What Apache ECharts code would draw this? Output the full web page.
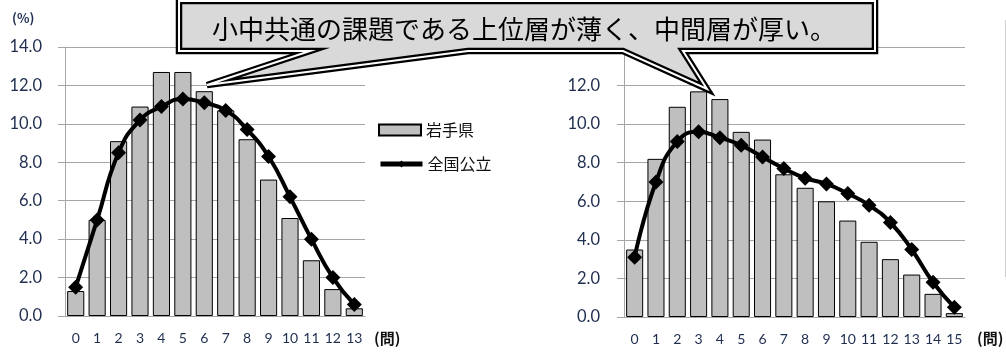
<!DOCTYPE html>
<html>
<head>
<meta charset="utf-8">
<script src="https://cdn.jsdelivr.net/npm/echarts@6/dist/echarts.min.js"></script>
<style>
html,body{margin:0;padding:0;background:#fff;}
#chart{width:1006px;height:352px;}
</style>
</head>
<body>
<div id="chart"></div>
<script>
const categoriesLeft = ['0','1','2','3','4','5','6','7','8','9','10','11','12','13'];
const categoriesRight = ['0','1','2','3','4','5','6','7','8','9','10','11','12','13','14','15'];
const iwateLeft = [1.3,5.0,9.1,10.9,12.7,12.7,11.7,10.7,9.2,7.1,5.1,2.9,1.4,0.4];
const nationalLeft = [1.5,5.0,8.5,10.2,10.9,11.3,11.1,10.7,9.7,8.3,6.2,4.0,2.0,0.6];
const iwateRight = [3.5,8.2,10.9,11.7,11.3,9.6,9.2,7.4,6.7,6.0,5.0,3.9,3.0,2.2,1.2,0.2];
const nationalRight = [3.1,7.0,9.1,9.6,9.3,8.9,8.3,7.7,7.2,6.9,6.4,5.8,4.9,3.5,1.8,0.5];
const seriesNames = ['岩手県','全国公立'];
const calloutText = '小中共通の課題である上位層が薄く、中間層が厚い。';
const yUnit = '(%)';
const xUnit = '(問)';

const navy = '#1f2d4f';
const gridGray = '#a6a6a6';
const latin = 'Lato, "Noto Sans CJK JP", sans-serif';
const cjk = '"Noto Sans CJK JP", sans-serif';

function yAxis(gi, margin){
  return {
    gridIndex: gi, type:'value', min:0, max:14, interval:2,
    axisLine:{show:true, lineStyle:{color:gridGray}},
    axisTick:{show:true, length:7, lineStyle:{color:gridGray}},
    splitLine:{lineStyle:{color:gridGray, width:1}},
    axisLabel:{margin:margin, color:navy, fontSize:16.5, fontFamily:latin, formatter:v=>v.toFixed(1)}
  };
}
function xAxis(gi, cats){
  return {
    gridIndex: gi, type:'category', data:cats,
    axisLine:{show:true, lineStyle:{color:gridGray}},
    axisTick:{show:false},
    axisLabel:{margin:15, color:navy, fontSize:14, fontFamily:latin, interval:0}
  };
}
function barS(i, data){
  return {name:seriesNames[0], type:'bar', xAxisIndex:i, yAxisIndex:i, data:data,
    barCategoryGap:'20%', itemStyle:{color:'#bfbfbf', borderColor:'#000', borderWidth:1}, z:2};
}
function lineS(i, data){
  return {name:seriesNames[1], type:'line', xAxisIndex:i, yAxisIndex:i, data:data,
    smooth:0.5, symbol:'diamond', symbolSize:15,
    lineStyle:{color:'#000', width:4}, itemStyle:{color:'#000'}, z:3};
}

const calloutPts = [[179,1],[875,1],[875,51],[683,51],[707,89],[623,51],[468,51],[207,85],[310,51],[179,51]];

const chart = echarts.init(document.getElementById('chart'), null, {renderer:'canvas'});
chart.setOption({
  animation:false,
  backgroundColor:'#fff',
  grid:[
    {left:65, top:47, width:300, height:269},
    {left:624, top:47, width:341, height:270}
  ],
  xAxis:[xAxis(0, categoriesLeft), xAxis(1, categoriesRight)],
  yAxis:[yAxis(0,23), yAxis(1,24)],
  legend:[
    {data:[{name:seriesNames[0], icon:'rect'}], left:373, top:117, itemWidth:42, itemHeight:11, itemGap:4,
     textStyle:{fontSize:16, color:'#111', fontFamily:cjk}},
    {data:[seriesNames[1]], left:373, top:151, itemWidth:42, itemHeight:9, itemGap:4,
     lineStyle:{width:5, color:'#000'},
     textStyle:{fontSize:16, color:'#111', fontFamily:cjk}}
  ],
  series:[barS(0, iwateLeft), lineS(0, nationalLeft), barS(1, iwateRight), lineS(1, nationalRight)],
  graphic:[
    {type:'text', left:12, top:12, style:{text:yUnit, fontSize:13, fontWeight:'bold', fill:navy, fontFamily:cjk}},
    {type:'text', left:374, top:331, style:{text:xUnit, fontSize:15, fontWeight:'bold', fill:'#111', fontFamily:cjk}},
    {type:'text', left:977, top:331, style:{text:xUnit, fontSize:15, fontWeight:'bold', fill:'#111', fontFamily:cjk}},
    {type:'line', shape:{x1:1005.5, y1:20, x2:1005.5, y2:277}, style:{stroke:'#d0d0d0', lineWidth:1}, z:100},
    {type:'polygon', shape:{points:calloutPts}, style:{fill:'#d9d9d9', stroke:'#000', lineWidth:6.5, lineJoin:'miter'}, z:100},
    {type:'polygon', shape:{points:calloutPts}, style:{fill:null, stroke:'#fff', lineWidth:2, lineJoin:'miter'}, z:101},
    {type:'text', x:212, y:29, style:{text:calloutText, fontSize:26, fill:'#000', fontFamily:cjk, verticalAlign:'middle', align:'left'}, z:102}
  ]
});
</script>
</body>
</html>
